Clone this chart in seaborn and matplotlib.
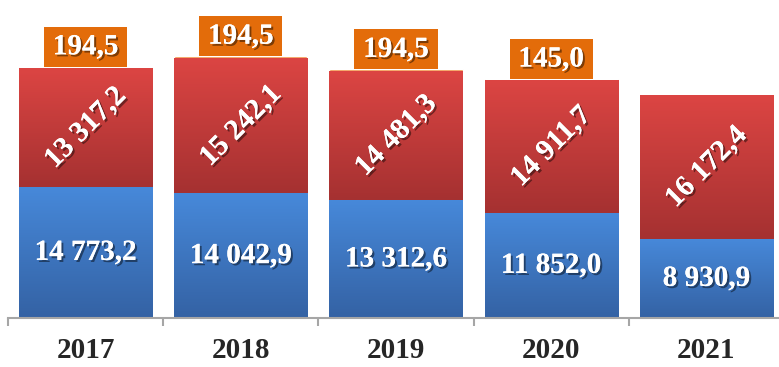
import numpy as np
import pandas as pd
import matplotlib
matplotlib.use("Agg")
import matplotlib.pyplot as plt
import matplotlib.patheffects as pe
from matplotlib.patches import Rectangle
import seaborn as sns

# Values per year (three stacked components)
years = ["2017", "2018", "2019", "2020", "2021"]
base_part = [14773.2, 14042.9, 13312.6, 11852.0, 8930.9]
middle_part = [13317.2, 15242.1, 14481.3, 14911.7, 16172.4]
top_part = [194.5, 194.5, 194.5, 145.0, 0.0]

sns.set_style("white")
plt.rcParams["font.family"] = ["Liberation Serif", "DejaVu Serif"]

BLUE_TOP, BLUE_BOT = "#4789DA", "#3462A4"
RED_TOP, RED_BOT = "#DC4543", "#A53131"
ORANGE_STRIP = "#F07C1E"
ORANGE_BOX = "#E36C0A"
AXIS_GREY = "#A6A6A6"

df = pd.DataFrame({"year": years, "base": base_part,
                   "middle": middle_part, "top": top_part})
df["mid_cum"] = df["base"] + df["middle"]
df["total"] = df["mid_cum"] + df["top"]

fig = plt.figure(figsize=(7.79, 3.67), dpi=100)
ax = fig.add_axes([8 / 779, 49 / 367, 776 / 779, 318 / 367])

bar_w = 0.857
kw = dict(x="year", width=bar_w, saturation=1, errorbar=None, ax=ax)
sns.barplot(data=df, y="total", color=ORANGE_STRIP, **kw)
sns.barplot(data=df, y="mid_cum", color=RED_BOT, **kw)
sns.barplot(data=df, y="base", color=BLUE_BOT, **kw)


def gradient(c_top, c_bot, n=256):
    a = np.array(matplotlib.colors.to_rgb(c_bot))
    b = np.array(matplotlib.colors.to_rgb(c_top))
    t = np.linspace(0, 1, n)[:, None]
    return (a + (b - a) * t)[:, None, :]


grad_red = gradient(RED_TOP, RED_BOT)
grad_blue = gradient(BLUE_TOP, BLUE_BOT)

# vertical gradient fill on the red and blue segments
for cont, grad, lo_col, hi_col in [(ax.containers[1], grad_red, "base", "mid_cum"),
                                   (ax.containers[2], grad_blue, None, "base")]:
    for i, patch in enumerate(cont.patches):
        x0 = patch.get_x()
        x1 = x0 + patch.get_width()
        y0 = 0 if lo_col is None else df[lo_col].iloc[i]
        y1 = df[hi_col].iloc[i]
        im = ax.imshow(grad, extent=(x0, x1, y0, y1), origin="lower",
                       aspect="auto", interpolation="bilinear",
                       zorder=patch.get_zorder() + 0.1)
        im.set_clip_path(patch)


def fmt(v):
    return f"{v:,.1f}".replace(",", " ").replace(".", ",")


shadow = [pe.withSimplePatchShadow(offset=(1.5, -1.5), shadow_rgbFace="black", alpha=0.45),
          pe.Normal()]
txt = dict(color="white", fontsize=21, fontweight="bold", ha="center", va="center",
           path_effects=shadow, zorder=10)

box_w, box_h = 0.535, 4500
for i, row in df.iterrows():
    ax.text(i, row["base"] / 2, fmt(row["base"]), **txt)
    ax.text(i, row["base"] + row["middle"] / 2, fmt(row["middle"]),
            rotation=45, rotation_mode="anchor", **txt)
    if row["top"] > 0:
        ax.add_patch(Rectangle((i - box_w / 2, row["total"]), box_w, box_h,
                               facecolor=ORANGE_BOX, edgecolor="none", zorder=8))
        ax.text(i, row["total"] + box_h / 2, fmt(row["top"]), **txt)

ax.set_xlim(-0.5, 4.5)
ax.set_ylim(0, 35800)
ax.set_yticks([])
ax.set_xlabel("")
ax.set_ylabel("")
sns.despine(ax=ax, left=True, top=True, right=True)
ax.spines["bottom"].set_color(AXIS_GREY)
ax.spines["bottom"].set_linewidth(1.5)

ax.tick_params(axis="x", which="major", length=0, pad=14, labelsize=21)
for lab in ax.get_xticklabels():
    lab.set_fontweight("bold")
ax.set_xticks(np.arange(-0.5, 5, 1), minor=True)
ax.tick_params(axis="x", which="minor", bottom=True, direction="out", length=5.5,
               width=1.5, color=AXIS_GREY)

fig.savefig("out.png", dpi=100)
